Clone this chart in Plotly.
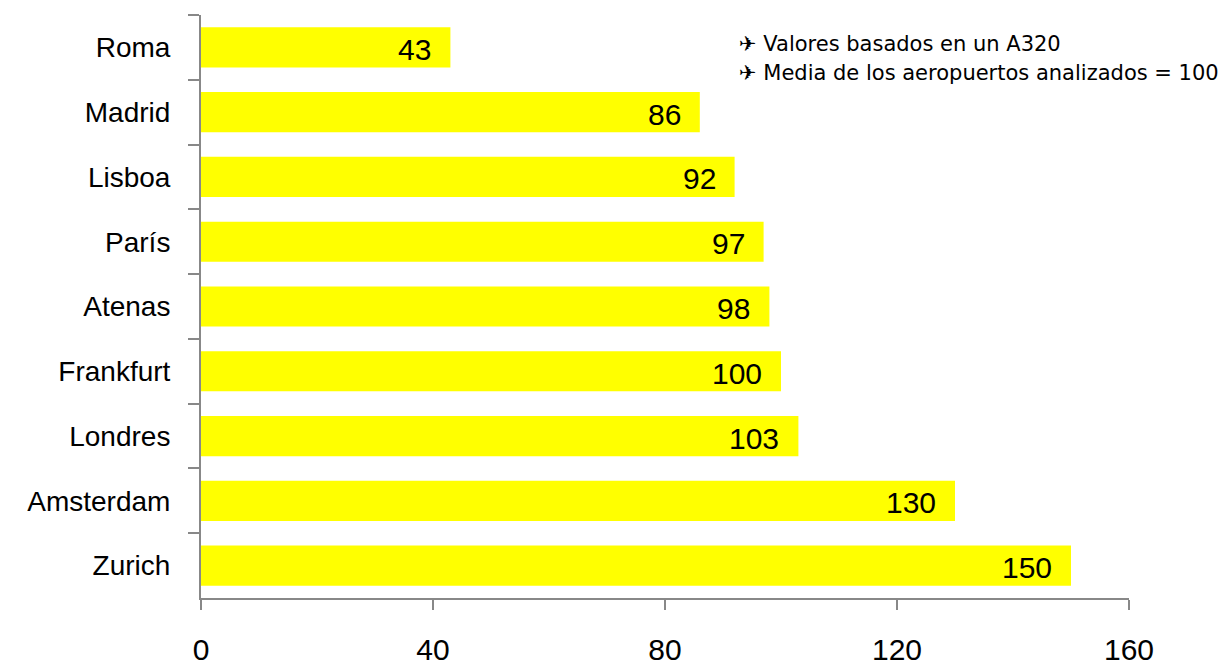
import plotly.graph_objects as go

ciudades = ["Roma", "Madrid", "Lisboa", "París", "Atenas", "Frankfurt",
            "Londres", "Amsterdam", "Zurich"]
indice = [43, 86, 92, 97, 98, 100, 103, 130, 150]
ticks_x = [0, 40, 80, 120, 160]
notas = ["✈ Valores basados en un A320",
         "✈ Media de los aeropuertos analizados = 100"]

fig = go.Figure()
fig.add_trace(go.Bar(
    x=indice, y=ciudades, orientation="h",
    marker=dict(color="#FFFF00", line=dict(width=0)),
    hoverinfo="x+y",
))

# value labels inside the bar ends
for c, v in zip(ciudades, indice):
    fig.add_annotation(x=v, y=c, text=str(v), showarrow=False,
                       xanchor="right", xshift=-17, yshift=-2,
                       font=dict(family="Liberation Sans, Arial", size=30, color="#000"))

for i, t in enumerate(notas):
    fig.add_annotation(xref="paper", xanchor="left", x=(737 - 201) / 928,
                       yref="paper", yanchor="middle", y=(598 - 44 - i * 29) / 583,
                       text=t, showarrow=False,
                       font=dict(family="DejaVu Sans", size=21, color="#000"))

fig.update_layout(
    width=1218, height=666,
    margin=dict(l=201, r=89, t=15, b=68, autoexpand=False),
    paper_bgcolor="white", plot_bgcolor="white",
    bargap=0.38, showlegend=False,
    xaxis=dict(range=[0, 160], tickvals=ticks_x, showgrid=False, zeroline=False,
               automargin=False,
               showline=True, linecolor="#888", linewidth=2,
               ticks="outside", ticklen=10, tickwidth=2, tickcolor="#888",
               ticklabelstandoff=14,
               tickfont=dict(family="Liberation Sans, Arial", size=30, color="#000")),
    yaxis=dict(categoryorder="array", categoryarray=ciudades, autorange="reversed",
               automargin=False,
               showgrid=False, zeroline=False, showline=True, linecolor="#888",
               linewidth=2, ticks="outside", ticklen=11, tickwidth=2, tickcolor="#888",
               tickson="boundaries", ticklabelstandoff=23,
               tickfont=dict(family="Liberation Sans, Arial", size=28, color="#000")),
)

fig.write_html("out.html")
